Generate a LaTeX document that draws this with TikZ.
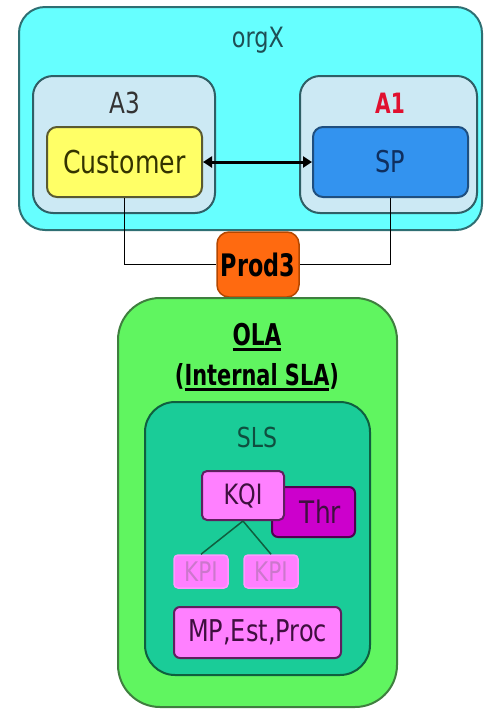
\documentclass[tikz,border=0pt]{standalone}
\usepackage{fontspec}
\setmainfont{DejaVu Sans}[FakeStretch=0.8,BoldFeatures={FakeStretch=0.72}]
\usetikzlibrary{arrows.meta}

\definecolor{orgfill}{HTML}{66FFFF}
\definecolor{orgdraw}{HTML}{2F6F73}
\definecolor{orgtext}{HTML}{1F4F55}
\definecolor{afill}{HTML}{CCE9F4}
\definecolor{adraw}{HTML}{2F5F66}
\definecolor{custfill}{HTML}{FFFF66}
\definecolor{custdraw}{HTML}{5A5A30}
\definecolor{custtext}{HTML}{333300}
\definecolor{spfill}{HTML}{3393EF}
\definecolor{spdraw}{HTML}{1F4F7F}
\definecolor{sptext}{HTML}{0F2F5F}
\definecolor{a1text}{HTML}{E0102F}
\definecolor{prodfill}{HTML}{FF6A10}
\definecolor{proddraw}{HTML}{B34700}
\definecolor{olafill}{HTML}{60F560}
\definecolor{oladraw}{HTML}{3F7F3F}
\definecolor{slsfill}{HTML}{1ACC98}
\definecolor{slsdraw}{HTML}{0F5F3F}
\definecolor{slstext}{HTML}{0F4F3F}
\definecolor{pinkfill}{HTML}{FF80FF}
\definecolor{pinkdraw}{HTML}{5F1F5F}
\definecolor{pinktext}{HTML}{3F0F3F}
\definecolor{thrfill}{HTML}{CC00CC}
\definecolor{thrdraw}{HTML}{4F004F}
\definecolor{kpidraw}{HTML}{FF99FF}
\definecolor{kpitext}{HTML}{CC77CC}

% thick underline under a piece of text
\newcommand\thickul[1]{\leavevmode\setbox0=\hbox{#1}\rlap{\rule[-5pt]{\wd0}{2.6pt}}\box0}

\tikzset{
  fs/.style={font=\fontsize{#1}{#1}\selectfont},
  bfs/.style={font=\bfseries\fontsize{#1}{#1}\selectfont},
  box/.style={rectangle, inner sep=0pt, line width=2pt},
  orgbox/.style={box, fill=orgfill, draw=orgdraw, rounded corners=26pt},
  abox/.style={box, fill=afill, draw=adraw, rounded corners=20pt},
  custbox/.style={box, fill=custfill, draw=custdraw, rounded corners=10pt, text=custtext, fs=31.5},
  spbox/.style={box, fill=spfill, draw=spdraw, rounded corners=10pt, text=sptext, fs=30},
  prodbox/.style={box, fill=prodfill, draw=proddraw, line width=1.5pt, rounded corners=12pt, bfs=31},
  olabox/.style={box, fill=olafill, draw=oladraw, rounded corners=42pt},
  slsbox/.style={box, fill=slsfill, draw=slsdraw, rounded corners=30pt},
  pinkbox/.style={box, fill=pinkfill, draw=pinkdraw, rounded corners=5pt, text=pinktext},
  thrbox/.style={box, fill=thrfill, draw=thrdraw, rounded corners=6pt, text=pinktext, fs=31},
  kpibox/.style={box, fill=pinkfill, draw=kpidraw, line width=1.5pt, rounded corners=4pt, text=kpitext, fs=27},
  lbl/.style={inner sep=0pt},
  wire/.style={draw=black, line width=1.3pt},
  twoway/.style={line width=3pt, {Triangle[length=9pt,width=11pt]}-{Triangle[length=9pt,width=11pt]}},
  branch/.style={draw=slsdraw, line width=1.5pt},
}

\begin{document}
\begin{tikzpicture}[x=1pt,y=-1pt]
  \useasboundingbox (0,0) rectangle (483,710);

  % organisation with its two actors
  \node[orgbox, minimum width=463pt, minimum height=223pt] (org) at (250.5,118.5) {};
  \node[lbl, text=orgtext, fs=28] (orglbl) at (258,40) {orgX};
  \node[abox, minimum width=182pt, minimum height=137pt] (a3) at (124,144.5) {};
  \node[abox, minimum width=177pt, minimum height=137pt] (a1) at (388.5,144.5) {};
  \node[lbl, text=black!80, fs=29] (a3lbl) at (125,103) {A3};
  \node[lbl, text=a1text, bfs=28] (a1lbl) at (390,103) {A1};
  \node[custbox, minimum width=155pt, minimum height=70pt] (cust) at (124.5,162) {Customer};
  \node[spbox, minimum width=155pt, minimum height=70pt] (sp) at (390.5,162) {SP};
  \draw[twoway] (cust.east) -- (sp.west);

  % product shared by both actors
  \node[prodbox, minimum width=82pt, minimum height=65pt] (prod) at (258,264.5) {Prod3};
  \draw[wire] (cust.south) |- (prod.west);
  \draw[wire] (sp.south) |- (prod.east);

  % operational level agreement
  \node[olabox, minimum width=279pt, minimum height=409pt] (ola) at (257.5,502.5) {};
  \node[lbl, bfs=30] (olalbl) at (257,337) {\thickul{OLA}};
  \node[lbl, bfs=29] (intlbl) at (257,377) {(\thickul{Internal SLA})};
  \node[slsbox, minimum width=225pt, minimum height=273pt] (sls) at (257.5,538.5) {};
  \node[lbl, text=slstext, fs=27.5] (slslbl) at (257,437) {SLS};

  \node[thrbox, minimum width=83pt, minimum height=50pt] (thr) at (313.5,512) {\hspace*{14pt}Thr};
  \node[pinkbox, minimum width=82pt, minimum height=49pt, fs=28] (kqi) at (243,495.5) {KQI};
  \node[kpibox, minimum width=54pt, minimum height=33pt] (kpi1) at (201,571.5) {KPI};
  \node[kpibox, minimum width=54pt, minimum height=33pt] (kpi2) at (271,571.5) {KPI};
  \draw[branch] (kqi.south) -- (kpi1.north);
  \draw[branch] (kqi.south) -- (kpi2.north);
  \node[pinkbox, rounded corners=6pt, minimum width=167pt, minimum height=51pt, fs=30] (mp) at (257.5,632.5) {MP,Est,Proc};
\end{tikzpicture}
\end{document}
